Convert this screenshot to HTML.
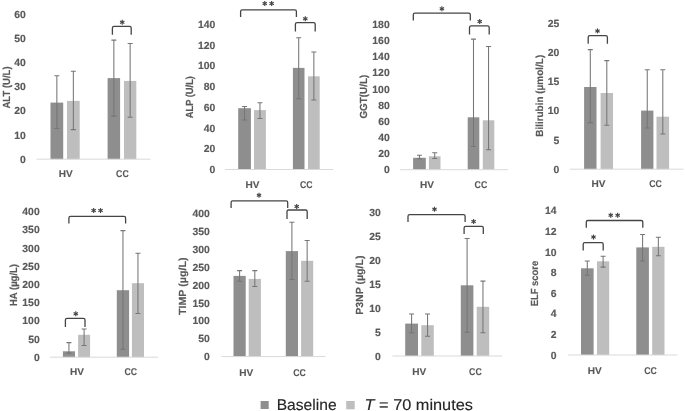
<!DOCTYPE html>
<html><head><meta charset="utf-8"><style>
html,body{margin:0;padding:0;background:#fff;}
body{width:685px;height:411px;overflow:hidden;}
svg{display:block;filter:blur(0.4px);}
text{font-family:"Liberation Sans",sans-serif;text-rendering:geometricPrecision;}
.tk{font-size:10.4px;font-weight:bold;fill:#595959;text-anchor:end;stroke:#595959;stroke-width:0.15px;}
.xl{font-size:9.8px;font-weight:bold;fill:#595959;text-anchor:start;stroke:#595959;stroke-width:0.12px;}
.tt{font-size:10.3px;font-weight:bold;fill:#595959;text-anchor:middle;stroke:#595959;stroke-width:0.15px;}
.lg{font-size:15.5px;fill:#262626;stroke:#262626;stroke-width:0.15px;}
</style></head><body>
<svg width="685" height="411" viewBox="0 0 685 411">
<rect width="685" height="411" fill="#fff"/>
<text x="25.9" y="162.7" class="tk">0</text>
<text x="25.9" y="138.55" class="tk">10</text>
<text x="25.9" y="114.4" class="tk">20</text>
<text x="25.9" y="90.25" class="tk">30</text>
<text x="25.9" y="66.1" class="tk">40</text>
<text x="25.9" y="41.95" class="tk">50</text>
<text x="25.9" y="17.8" class="tk">60</text>
<rect x="50.5" y="102.6" width="12.7" height="56.6" fill="#8e8e8e"/>
<rect x="67" y="100.9" width="12.7" height="58.3" fill="#bebebe"/>
<rect x="107.6" y="78.1" width="12.5" height="81.1" fill="#8e8e8e"/>
<rect x="124" y="80.9" width="12.3" height="78.3" fill="#bebebe"/>
<line x1="36.6" y1="159.2" x2="150.5" y2="159.2" stroke="#d9d9d9" stroke-width="1"/>
<path d="M56.85 75.8V128.4M54.35 75.8H59.35M54.35 128.4H59.35" stroke="#767676" stroke-width="1.05" fill="none"/>
<path d="M73.35 71.2V129.6M70.85 71.2H75.85M70.85 129.6H75.85" stroke="#767676" stroke-width="1.05" fill="none"/>
<path d="M113.85 40.1V116.1M111.35 40.1H116.35M111.35 116.1H116.35" stroke="#767676" stroke-width="1.05" fill="none"/>
<path d="M130.15 43.5V117.2M127.65 43.5H132.65M127.65 117.2H132.65" stroke="#767676" stroke-width="1.05" fill="none"/>
<path d="M112.4 34.7V28Q112.4 26.4 114 26.4H129.6Q131.2 26.4 131.2 28V34.7" stroke="#454545" stroke-width="1.3" fill="none"/>
<g stroke="#454545" stroke-width="1.15" stroke-linecap="butt"><line x1="122.2" y1="19.7" x2="122.2" y2="24.7"/><line x1="120.03" y1="20.95" x2="124.37" y2="23.45"/><line x1="124.37" y1="20.95" x2="120.03" y2="23.45"/></g>
<text x="58.7" y="177.4" class="xl" textLength="14.0" lengthAdjust="spacingAndGlyphs">HV</text>
<text x="116.1" y="177.4" class="xl" textLength="12.6" lengthAdjust="spacingAndGlyphs">CC</text>
<text class="tt" transform="translate(9.6 87.5) rotate(-90)" x="0" y="0" textLength="42.2" lengthAdjust="spacingAndGlyphs">ALT (U/L)</text>
<text x="215.3" y="173" class="tk">0</text>
<text x="215.3" y="152.26" class="tk">20</text>
<text x="215.3" y="131.51" class="tk">40</text>
<text x="215.3" y="110.77" class="tk">60</text>
<text x="215.3" y="90.03" class="tk">80</text>
<text x="215.3" y="69.29" class="tk">100</text>
<text x="215.3" y="48.54" class="tk">120</text>
<text x="215.3" y="27.8" class="tk">140</text>
<rect x="238.2" y="108.2" width="12.7" height="61.3" fill="#8e8e8e"/>
<rect x="254" y="110.1" width="11.9" height="59.4" fill="#bebebe"/>
<rect x="292.9" y="67.9" width="11.6" height="101.6" fill="#8e8e8e"/>
<rect x="308" y="76.3" width="11.7" height="93.2" fill="#bebebe"/>
<line x1="225.1" y1="169.5" x2="333.3" y2="169.5" stroke="#d9d9d9" stroke-width="1"/>
<path d="M244.55 106.5V119.9M242.05 106.5H247.05M242.05 119.9H247.05" stroke="#767676" stroke-width="1.05" fill="none"/>
<path d="M259.95 102.7V118.4M257.45 102.7H262.45M257.45 118.4H262.45" stroke="#767676" stroke-width="1.05" fill="none"/>
<path d="M298.7 37.8V98.7M296.2 37.8H301.2M296.2 98.7H301.2" stroke="#767676" stroke-width="1.05" fill="none"/>
<path d="M313.85 52V100M311.35 52H316.35M311.35 100H316.35" stroke="#767676" stroke-width="1.05" fill="none"/>
<path d="M240.6 17.1V11.5Q240.6 9.9 242.2 9.9H294.8Q296.4 9.9 296.4 11.5V17.1" stroke="#454545" stroke-width="1.3" fill="none"/>
<g stroke="#454545" stroke-width="1.15" stroke-linecap="butt"><line x1="264.75" y1="1" x2="264.75" y2="6"/><line x1="262.58" y1="2.25" x2="266.92" y2="4.75"/><line x1="266.92" y1="2.25" x2="262.58" y2="4.75"/></g>
<g stroke="#454545" stroke-width="1.15" stroke-linecap="butt"><line x1="271.65" y1="1" x2="271.65" y2="6"/><line x1="269.48" y1="2.25" x2="273.82" y2="4.75"/><line x1="273.82" y1="2.25" x2="269.48" y2="4.75"/></g>
<path d="M295.4 31.5V24.2Q295.4 22.6 297 22.6H313.6Q315.2 22.6 315.2 24.2V31.5" stroke="#454545" stroke-width="1.3" fill="none"/>
<g stroke="#454545" stroke-width="1.15" stroke-linecap="butt"><line x1="305.3" y1="16.2" x2="305.3" y2="21.2"/><line x1="303.13" y1="17.45" x2="307.47" y2="19.95"/><line x1="307.47" y1="17.45" x2="303.13" y2="19.95"/></g>
<text x="245.4" y="188" class="xl" textLength="14.0" lengthAdjust="spacingAndGlyphs">HV</text>
<text x="299.9" y="188" class="xl" textLength="12.6" lengthAdjust="spacingAndGlyphs">CC</text>
<text class="tt" transform="translate(192.8 97.15) rotate(-90)" x="0" y="0" textLength="42.1" lengthAdjust="spacingAndGlyphs">ALP (U/L)</text>
<text x="389.7" y="173.2" class="tk">0</text>
<text x="389.7" y="157.08" class="tk">20</text>
<text x="389.7" y="140.96" class="tk">40</text>
<text x="389.7" y="124.83" class="tk">60</text>
<text x="389.7" y="108.71" class="tk">80</text>
<text x="389.7" y="92.59" class="tk">100</text>
<text x="389.7" y="76.47" class="tk">120</text>
<text x="389.7" y="60.34" class="tk">140</text>
<text x="389.7" y="44.22" class="tk">160</text>
<text x="389.7" y="28.1" class="tk">180</text>
<rect x="413.1" y="157.8" width="12.7" height="11.9" fill="#8e8e8e"/>
<rect x="428.9" y="156.3" width="11.6" height="13.4" fill="#bebebe"/>
<rect x="467.7" y="117.3" width="11.6" height="52.4" fill="#8e8e8e"/>
<rect x="482.8" y="120.3" width="11.5" height="49.4" fill="#bebebe"/>
<line x1="400" y1="169.7" x2="508.2" y2="169.7" stroke="#d9d9d9" stroke-width="1"/>
<path d="M419.45 155.2V158.7M416.95 155.2H421.95M416.95 158.7H421.95" stroke="#767676" stroke-width="1.05" fill="none"/>
<path d="M434.7 152.8V158.5M432.2 152.8H437.2M432.2 158.5H437.2" stroke="#767676" stroke-width="1.05" fill="none"/>
<path d="M473.5 39.1V146.4M471 39.1H476M471 146.4H476" stroke="#767676" stroke-width="1.05" fill="none"/>
<path d="M488.55 46.4V149.7M486.05 46.4H491.05M486.05 149.7H491.05" stroke="#767676" stroke-width="1.05" fill="none"/>
<path d="M413.3 20.4V14.7Q413.3 13.1 414.9 13.1H468.7Q470.3 13.1 470.3 14.7V20.4" stroke="#454545" stroke-width="1.3" fill="none"/>
<g stroke="#454545" stroke-width="1.15" stroke-linecap="butt"><line x1="441.9" y1="6.3" x2="441.9" y2="11.3"/><line x1="439.73" y1="7.55" x2="444.07" y2="10.05"/><line x1="444.07" y1="7.55" x2="439.73" y2="10.05"/></g>
<path d="M469.5 34.6V27.4Q469.5 25.8 471.1 25.8H487.6Q489.2 25.8 489.2 27.4V34.6" stroke="#454545" stroke-width="1.3" fill="none"/>
<g stroke="#454545" stroke-width="1.15" stroke-linecap="butt"><line x1="479.7" y1="19.1" x2="479.7" y2="24.1"/><line x1="477.53" y1="20.35" x2="481.87" y2="22.85"/><line x1="481.87" y1="20.35" x2="477.53" y2="22.85"/></g>
<text x="419.9" y="187.9" class="xl" textLength="14.0" lengthAdjust="spacingAndGlyphs">HV</text>
<text x="474.6" y="187.9" class="xl" textLength="12.6" lengthAdjust="spacingAndGlyphs">CC</text>
<text class="tt" transform="translate(367.3 96.65) rotate(-90)" x="0" y="0" textLength="43.9" lengthAdjust="spacingAndGlyphs">GGT(U/L)</text>
<text x="559.3" y="172.7" class="tk">0</text>
<text x="559.3" y="143.54" class="tk">5</text>
<text x="559.3" y="114.38" class="tk">10</text>
<text x="559.3" y="85.22" class="tk">15</text>
<text x="559.3" y="56.06" class="tk">20</text>
<text x="559.3" y="26.9" class="tk">25</text>
<rect x="584.1" y="87" width="12.4" height="82.2" fill="#8e8e8e"/>
<rect x="600.6" y="93" width="12.4" height="76.2" fill="#bebebe"/>
<rect x="641.1" y="110.6" width="12.3" height="58.6" fill="#8e8e8e"/>
<rect x="656.5" y="116.7" width="12.6" height="52.5" fill="#bebebe"/>
<line x1="569.9" y1="169.2" x2="683.5" y2="169.2" stroke="#d9d9d9" stroke-width="1"/>
<path d="M590.3 49.6V122.6M587.8 49.6H592.8M587.8 122.6H592.8" stroke="#767676" stroke-width="1.05" fill="none"/>
<path d="M606.8 60.6V125.3M604.3 60.6H609.3M604.3 125.3H609.3" stroke="#767676" stroke-width="1.05" fill="none"/>
<path d="M647.25 69.8V127.9M644.75 69.8H649.75M644.75 127.9H649.75" stroke="#767676" stroke-width="1.05" fill="none"/>
<path d="M662.8 69.8V134M660.3 69.8H665.3M660.3 134H665.3" stroke="#767676" stroke-width="1.05" fill="none"/>
<path d="M588.2 43.7V37.3Q588.2 35.7 589.8 35.7H605.8Q607.4 35.7 607.4 37.3V43.7" stroke="#454545" stroke-width="1.3" fill="none"/>
<g stroke="#454545" stroke-width="1.15" stroke-linecap="butt"><line x1="597.5" y1="28.4" x2="597.5" y2="33.4"/><line x1="595.33" y1="29.65" x2="599.67" y2="32.15"/><line x1="599.67" y1="29.65" x2="595.33" y2="32.15"/></g>
<text x="591.6" y="187" class="xl" textLength="14.0" lengthAdjust="spacingAndGlyphs">HV</text>
<text x="649.3" y="187" class="xl" textLength="12.6" lengthAdjust="spacingAndGlyphs">CC</text>
<text class="tt" transform="translate(542.8 95.8) rotate(-90)" x="0" y="0" textLength="82" lengthAdjust="spacingAndGlyphs">Bilirubin (µmol/L)</text>
<text x="39.7" y="360.7" class="tk">0</text>
<text x="39.7" y="342.51" class="tk">50</text>
<text x="39.7" y="324.32" class="tk">100</text>
<text x="39.7" y="306.14" class="tk">150</text>
<text x="39.7" y="287.95" class="tk">200</text>
<text x="39.7" y="269.76" class="tk">250</text>
<text x="39.7" y="251.57" class="tk">300</text>
<text x="39.7" y="233.39" class="tk">350</text>
<text x="39.7" y="215.2" class="tk">400</text>
<rect x="62.9" y="351.3" width="12.1" height="5.9" fill="#8e8e8e"/>
<rect x="78.1" y="334.8" width="12" height="22.4" fill="#bebebe"/>
<rect x="116.8" y="290.2" width="12.3" height="67" fill="#8e8e8e"/>
<rect x="131.9" y="283.2" width="12.1" height="74" fill="#bebebe"/>
<line x1="49.9" y1="357.2" x2="158.3" y2="357.2" stroke="#d9d9d9" stroke-width="1"/>
<path d="M68.95 342.6V353.1M66.45 342.6H71.45M66.45 353.1H71.45" stroke="#767676" stroke-width="1.05" fill="none"/>
<path d="M84.1 329V345.4M81.6 329H86.6M81.6 345.4H86.6" stroke="#767676" stroke-width="1.05" fill="none"/>
<path d="M122.95 230.6V349.3M120.45 230.6H125.45M120.45 349.3H125.45" stroke="#767676" stroke-width="1.05" fill="none"/>
<path d="M137.95 253.2V313.5M135.45 253.2H140.45M135.45 313.5H140.45" stroke="#767676" stroke-width="1.05" fill="none"/>
<path d="M65.4 326.9V320Q65.4 318.4 67 318.4H83.4Q85 318.4 85 320V326.9" stroke="#454545" stroke-width="1.3" fill="none"/>
<g stroke="#454545" stroke-width="1.15" stroke-linecap="butt"><line x1="75.8" y1="311.3" x2="75.8" y2="316.3"/><line x1="73.63" y1="312.55" x2="77.97" y2="315.05"/><line x1="77.97" y1="312.55" x2="73.63" y2="315.05"/></g>
<path d="M68.9 223.4V218Q68.9 216.4 70.5 216.4H124Q125.6 216.4 125.6 218V223.4" stroke="#454545" stroke-width="1.3" fill="none"/>
<g stroke="#454545" stroke-width="1.15" stroke-linecap="butt"><line x1="93.65" y1="208.1" x2="93.65" y2="213.1"/><line x1="91.48" y1="209.35" x2="95.82" y2="211.85"/><line x1="95.82" y1="209.35" x2="91.48" y2="211.85"/></g>
<g stroke="#454545" stroke-width="1.15" stroke-linecap="butt"><line x1="100.55" y1="208.1" x2="100.55" y2="213.1"/><line x1="98.38" y1="209.35" x2="102.72" y2="211.85"/><line x1="102.72" y1="209.35" x2="98.38" y2="211.85"/></g>
<text x="69.9" y="375.2" class="xl" textLength="14.0" lengthAdjust="spacingAndGlyphs">HV</text>
<text x="124.5" y="375.2" class="xl" textLength="12.6" lengthAdjust="spacingAndGlyphs">CC</text>
<text class="tt" transform="translate(17.1 285) rotate(-90)" x="0" y="0" textLength="42" lengthAdjust="spacingAndGlyphs">HA (µg/L)</text>
<text x="209.9" y="360.1" class="tk">0</text>
<text x="209.9" y="342.26" class="tk">50</text>
<text x="209.9" y="324.43" class="tk">100</text>
<text x="209.9" y="306.59" class="tk">150</text>
<text x="209.9" y="288.75" class="tk">200</text>
<text x="209.9" y="270.91" class="tk">250</text>
<text x="209.9" y="253.07" class="tk">300</text>
<text x="209.9" y="235.24" class="tk">350</text>
<text x="209.9" y="217.4" class="tk">400</text>
<rect x="233.5" y="275.9" width="12.2" height="80.7" fill="#8e8e8e"/>
<rect x="248.7" y="278.9" width="12.2" height="77.7" fill="#bebebe"/>
<rect x="285.8" y="251.1" width="12.2" height="105.5" fill="#8e8e8e"/>
<rect x="301.1" y="260.8" width="12.1" height="95.8" fill="#bebebe"/>
<line x1="221.6" y1="356.6" x2="325.4" y2="356.6" stroke="#d9d9d9" stroke-width="1"/>
<path d="M239.6 270.6V281.3M237.1 270.6H242.1M237.1 281.3H242.1" stroke="#767676" stroke-width="1.05" fill="none"/>
<path d="M254.8 270.6V286.5M252.3 270.6H257.3M252.3 286.5H257.3" stroke="#767676" stroke-width="1.05" fill="none"/>
<path d="M291.9 222.2V279.5M289.4 222.2H294.4M289.4 279.5H294.4" stroke="#767676" stroke-width="1.05" fill="none"/>
<path d="M307.15 240.4V281.3M304.65 240.4H309.65M304.65 281.3H309.65" stroke="#767676" stroke-width="1.05" fill="none"/>
<path d="M231.1 208.1V202.4Q231.1 200.8 232.7 200.8H286.1Q287.7 200.8 287.7 202.4V208.1" stroke="#454545" stroke-width="1.3" fill="none"/>
<g stroke="#454545" stroke-width="1.15" stroke-linecap="butt"><line x1="259" y1="192.7" x2="259" y2="197.7"/><line x1="256.83" y1="193.95" x2="261.17" y2="196.45"/><line x1="261.17" y1="193.95" x2="256.83" y2="196.45"/></g>
<path d="M287 219V211.6Q287 210 288.6 210H305.6Q307.2 210 307.2 211.6V219" stroke="#454545" stroke-width="1.3" fill="none"/>
<g stroke="#454545" stroke-width="1.15" stroke-linecap="butt"><line x1="296.7" y1="203.9" x2="296.7" y2="208.9"/><line x1="294.53" y1="205.15" x2="298.87" y2="207.65"/><line x1="298.87" y1="205.15" x2="294.53" y2="207.65"/></g>
<text x="239.3" y="376.2" class="xl" textLength="14.0" lengthAdjust="spacingAndGlyphs">HV</text>
<text x="293.2" y="376.2" class="xl" textLength="12.6" lengthAdjust="spacingAndGlyphs">CC</text>
<text class="tt" transform="translate(185.8 286.25) rotate(-90)" x="0" y="0" textLength="57.7" lengthAdjust="spacingAndGlyphs">TIMP (µg/L)</text>
<text x="380.9" y="359.5" class="tk">0</text>
<text x="380.9" y="335.65" class="tk">5</text>
<text x="380.9" y="311.8" class="tk">10</text>
<text x="380.9" y="287.95" class="tk">15</text>
<text x="380.9" y="264.1" class="tk">20</text>
<text x="380.9" y="240.25" class="tk">25</text>
<text x="380.9" y="216.4" class="tk">30</text>
<rect x="405.2" y="323.6" width="12.8" height="32.4" fill="#8e8e8e"/>
<rect x="421.3" y="325.2" width="12.5" height="30.8" fill="#bebebe"/>
<rect x="460.8" y="285.3" width="12.6" height="70.7" fill="#8e8e8e"/>
<rect x="476.7" y="306.8" width="12.5" height="49.2" fill="#bebebe"/>
<line x1="392.4" y1="356" x2="502.2" y2="356" stroke="#d9d9d9" stroke-width="1"/>
<path d="M411.6 313.9V332.8M409.1 313.9H414.1M409.1 332.8H414.1" stroke="#767676" stroke-width="1.05" fill="none"/>
<path d="M427.55 313.9V336.2M425.05 313.9H430.05M425.05 336.2H430.05" stroke="#767676" stroke-width="1.05" fill="none"/>
<path d="M467.1 238.4V332.3M464.6 238.4H469.6M464.6 332.3H469.6" stroke="#767676" stroke-width="1.05" fill="none"/>
<path d="M482.95 281.1V332.8M480.45 281.1H485.45M480.45 332.8H485.45" stroke="#767676" stroke-width="1.05" fill="none"/>
<path d="M408 222V216.2Q408 214.6 409.6 214.6H463.5Q465.1 214.6 465.1 216.2V222" stroke="#454545" stroke-width="1.3" fill="none"/>
<g stroke="#454545" stroke-width="1.15" stroke-linecap="butt"><line x1="434.5" y1="206.7" x2="434.5" y2="211.7"/><line x1="432.33" y1="207.95" x2="436.67" y2="210.45"/><line x1="436.67" y1="207.95" x2="432.33" y2="210.45"/></g>
<path d="M464.1 234V227.9Q464.1 226.3 465.7 226.3H481.7Q483.3 226.3 483.3 227.9V234" stroke="#454545" stroke-width="1.3" fill="none"/>
<g stroke="#454545" stroke-width="1.15" stroke-linecap="butt"><line x1="473.6" y1="218.9" x2="473.6" y2="223.9"/><line x1="471.43" y1="220.15" x2="475.77" y2="222.65"/><line x1="475.77" y1="220.15" x2="471.43" y2="222.65"/></g>
<text x="412.2" y="374.7" class="xl" textLength="14.0" lengthAdjust="spacingAndGlyphs">HV</text>
<text x="469.1" y="374.7" class="xl" textLength="12.6" lengthAdjust="spacingAndGlyphs">CC</text>
<text class="tt" transform="translate(362.7 285.2) rotate(-90)" x="0" y="0" textLength="59.2" lengthAdjust="spacingAndGlyphs">P3NP (µg/L)</text>
<text x="556.5" y="358.5" class="tk">0</text>
<text x="556.5" y="337.91" class="tk">2</text>
<text x="556.5" y="317.33" class="tk">4</text>
<text x="556.5" y="296.74" class="tk">6</text>
<text x="556.5" y="276.16" class="tk">8</text>
<text x="556.5" y="255.57" class="tk">10</text>
<text x="556.5" y="234.99" class="tk">12</text>
<text x="556.5" y="214.4" class="tk">14</text>
<rect x="581" y="268.3" width="12.6" height="86.7" fill="#8e8e8e"/>
<rect x="597" y="261.3" width="12.2" height="93.7" fill="#bebebe"/>
<rect x="636.3" y="247.4" width="12.6" height="107.6" fill="#8e8e8e"/>
<rect x="652.2" y="246.8" width="12.3" height="108.2" fill="#bebebe"/>
<line x1="567.9" y1="355" x2="677.4" y2="355" stroke="#d9d9d9" stroke-width="1"/>
<path d="M587.3 260.9V275.3M584.8 260.9H589.8M584.8 275.3H589.8" stroke="#767676" stroke-width="1.05" fill="none"/>
<path d="M603.1 256.3V267.1M600.6 256.3H605.6M600.6 267.1H605.6" stroke="#767676" stroke-width="1.05" fill="none"/>
<path d="M642.6 234.4V260.9M640.1 234.4H645.1M640.1 260.9H645.1" stroke="#767676" stroke-width="1.05" fill="none"/>
<path d="M658.35 237.3V255.7M655.85 237.3H660.85M655.85 255.7H660.85" stroke="#767676" stroke-width="1.05" fill="none"/>
<path d="M586.3 227.8V222.1Q586.3 220.5 587.9 220.5H641.2Q642.8 220.5 642.8 222.1V227.8" stroke="#454545" stroke-width="1.3" fill="none"/>
<g stroke="#454545" stroke-width="1.15" stroke-linecap="butt"><line x1="610.75" y1="212.8" x2="610.75" y2="217.8"/><line x1="608.58" y1="214.05" x2="612.92" y2="216.55"/><line x1="612.92" y1="214.05" x2="608.58" y2="216.55"/></g>
<g stroke="#454545" stroke-width="1.15" stroke-linecap="butt"><line x1="617.65" y1="212.8" x2="617.65" y2="217.8"/><line x1="615.48" y1="214.05" x2="619.82" y2="216.55"/><line x1="619.82" y1="214.05" x2="615.48" y2="216.55"/></g>
<path d="M583.2 250.5V244.3Q583.2 242.7 584.8 242.7H601.6Q603.2 242.7 603.2 244.3V250.5" stroke="#454545" stroke-width="1.3" fill="none"/>
<g stroke="#454545" stroke-width="1.15" stroke-linecap="butt"><line x1="593.5" y1="234.6" x2="593.5" y2="239.6"/><line x1="591.33" y1="235.85" x2="595.67" y2="238.35"/><line x1="595.67" y1="235.85" x2="591.33" y2="238.35"/></g>
<text x="587.8" y="373.6" class="xl" textLength="14.0" lengthAdjust="spacingAndGlyphs">HV</text>
<text x="644.3" y="373.6" class="xl" textLength="12.6" lengthAdjust="spacingAndGlyphs">CC</text>
<text class="tt" transform="translate(538.1 283.55) rotate(-90)" x="0" y="0" textLength="45.5" lengthAdjust="spacingAndGlyphs">ELF score</text>
<rect x="260.6" y="401" width="8.1" height="8" fill="#8e8e8e"/>
<text x="276.7" y="409.9" class="lg" textLength="59.9" lengthAdjust="spacingAndGlyphs">Baseline</text>
<rect x="346.2" y="401" width="8.5" height="8.3" fill="#bebebe"/>
<text x="364.6" y="409.9" class="lg" textLength="108.3" lengthAdjust="spacingAndGlyphs"><tspan font-style="italic">T</tspan> = 70 minutes</text>
</svg>
</body></html>
